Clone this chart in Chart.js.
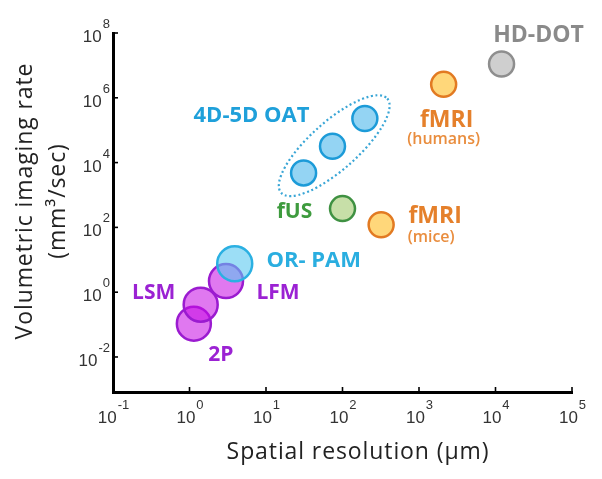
<!DOCTYPE html>
<html><head><meta charset="utf-8">
<script src="https://cdn.jsdelivr.net/npm/chart.js@4"></script>
<style>html,body{margin:0;padding:0;background:#fff;overflow:hidden}#wrap{width:602px;height:479px;position:relative}</style>
</head><body><div id="wrap"><canvas id="c" width="602" height="479"></canvas></div>
<script>
// ---- data ----
const hdDotResolution = [12000];      const hdDotRate = [1.1e7];
const fmriHumansResolution = [2100];  const fmriHumansRate = [2.6e6];
const oatResolution = [31, 74, 196];  const oatRate = [4800, 3.2e4, 2.3e5];
const fusResolution = [100];          const fusRate = [380];
const fmriMiceResolution = [320];     const fmriMiceRate = [120];
const orPamResolution = [3.9];        const orPamRate = [7.5];
const lfmResolution = [3.0];          const lfmRate = [2.2];
const lsmResolution = [1.4];          const lsmRate = [0.41];
const twoPResolution = [1.14];        const twoPRate = [0.107];
const seriesNames = ['HD-DOT', 'fMRI (humans)', '4D-5D OAT', 'fUS', 'fMRI (mice)', 'OR-PAM', 'LFM', 'LSM', '2P'];
const xTickValues = [0.1, 1, 10, 100, 1000, 10000, 100000];
const yTickValues = [0.01, 1, 100, 1e4, 1e6, 1e8];
const xRange = [0.1, 1e5];
const yRange = [8.3e-4, 1e8];
const xTitle = 'Spatial resolution (\u03bcm)';
const yTitle = ['Volumetric imaging rate', '(mm\u00b3/sec)'];

// ---- helpers ----
function expOf(v){ return String(Math.round(Math.log10(v))); }
function pts(xs, ys){ return xs.map((x,i)=>({x:x, y:ys[i]})); }

const styles = [
  {bg:'#cfcfcf', bd:'#8e8e8e', r:12.5},
  {bg:'#ffd77a', bd:'#e27a22', r:12.5},
  {bg:'#94d4f3', bd:'#1c9bd8', r:12.5},
  {bg:'#c7dfa8', bd:'#3f9142', r:12.5},
  {bg:'#ffd77a', bd:'#e27a22', r:12.5},
  {bg:'rgba(90,200,240,0.6)', bd:'#2bb0e2', r:17.5},
  {bg:'rgba(199,10,228,0.55)', bd:'#9b1bd0', r:17},
  {bg:'rgba(199,10,228,0.55)', bd:'#9b1bd0', r:17},
  {bg:'rgba(199,10,228,0.55)', bd:'#9b1bd0', r:17}
];
const seriesData = [
  pts(hdDotResolution, hdDotRate), pts(fmriHumansResolution, fmriHumansRate), pts(oatResolution, oatRate),
  pts(fusResolution, fusRate), pts(fmriMiceResolution, fmriMiceRate), pts(orPamResolution, orPamRate),
  pts(lfmResolution, lfmRate), pts(lsmResolution, lsmRate), pts(twoPResolution, twoPRate)
];
const datasets = seriesData.map((d,i)=>({
  label: seriesNames[i], data: d, backgroundColor: styles[i].bg, borderColor: styles[i].bd,
  borderWidth: 2.5, radius: styles[i].r, hoverRadius: 0
}));

const F = '"Open Sans", "Noto Sans", sans-serif';
const TF = '"Liberation Sans", Arial, sans-serif';
const labelSpecs = [
  {ds:0, pt:0, lines:[{t:'HD-DOT', dx:37, dy:-22, size:23, w:'bold', c:'#8a8a8a'}]},
  {ds:1, pt:0, lines:[{t:'fMRI', dx:3, dy:43, size:23, w:'bold', c:'#e5802b'},{t:'(humans)', dx:0, dy:60, size:16, w:'600', c:'#e98d3e'}]},
  {ds:2, pt:1, lines:[{t:'4D-5D OAT', dx:-81, dy:-24, size:22, w:'bold', c:'#1fa0da'}]},
  {ds:3, pt:0, lines:[{t:'fUS', dx:-48, dy:9, size:21, w:'bold', c:'#3e9b3e'}]},
  {ds:4, pt:0, lines:[{t:'fMRI', dx:54, dy:-2, size:23, w:'bold', c:'#e5802b'},{t:'(mice)', dx:50, dy:17, size:16, w:'600', c:'#e98d3e'}]},
  {ds:5, pt:0, lines:[{t:'OR- PAM', dx:79, dy:3, size:22, w:'bold', c:'#2aaee0'}]},
  {ds:6, pt:0, lines:[{t:'LFM', dx:52, dy:18, size:21, w:'bold', c:'#9b22d3'}]},
  {ds:7, pt:0, lines:[{t:'LSM', dx:-47, dy:-6, size:21, w:'bold', c:'#9b22d3'}]},
  {ds:8, pt:0, lines:[{t:'2P', dx:27, dy:37, size:21, w:'bold', c:'#9b22d3'}]}
];

function drawPow(ctx, e, x, baseY, align){
  ctx.font = '17px ' + TF; const w10 = ctx.measureText('10').width;
  ctx.font = '13px ' + TF; const we = ctx.measureText(e).width;
  let x0 = align === 'center' ? x - (w10 + we)/2 : x - w10 - we - 1;
  ctx.textAlign = 'left';
  ctx.font = '17px ' + TF; ctx.fillText('10', x0, baseY);
  ctx.font = '13px ' + TF; ctx.fillText(e, x0 + w10 + 1, baseY - 14);
}

const decor = {
  id:'decor',
  afterDatasetsDraw(chart){
    const ctx = chart.ctx;
    const m = chart.getDatasetMeta(2).data;
    const p0 = m[0], p1 = m[m.length-1];
    const cx = (p0.x+p1.x)/2, cy = (p0.y+p1.y)/2;
    const ang = Math.atan2(p1.y-p0.y, p1.x-p0.x);
    const half = Math.hypot(p1.x-p0.x, p1.y-p0.y)/2;
    ctx.save();
    ctx.setLineDash([2,2.6]);
    ctx.lineWidth = 2.2; ctx.strokeStyle = '#3aa6d6';
    ctx.beginPath(); ctx.ellipse(cx, cy, half+30, 24, ang, 0, Math.PI*2); ctx.stroke();
    ctx.restore();
    ctx.save();
    ctx.textAlign = 'center'; ctx.textBaseline = 'alphabetic';
    labelSpecs.forEach(s=>{
      const el = chart.getDatasetMeta(s.ds).data[s.pt];
      s.lines.forEach(l=>{
        ctx.font = l.w + ' ' + l.size + 'px ' + F;
        ctx.fillStyle = l.c;
        ctx.fillText(l.t, el.x + l.dx, el.y + l.dy);
      });
    });
    ctx.restore();
  },
  afterDraw(chart){
    const ctx = chart.ctx, xs = chart.scales.x, ys = chart.scales.y, a = chart.chartArea;
    ctx.save();
    ctx.strokeStyle = '#000'; ctx.lineWidth = 1.6;
    xs.ticks.forEach(t=>{ const px = xs.getPixelForValue(t.value); ctx.beginPath(); ctx.moveTo(px, a.bottom); ctx.lineTo(px, a.bottom-5); ctx.stroke(); });
    ys.ticks.forEach(t=>{ const py = ys.getPixelForValue(t.value); ctx.beginPath(); ctx.moveTo(a.left, py); ctx.lineTo(a.left+5, py); ctx.stroke(); });
    ctx.fillStyle = '#333'; ctx.textBaseline = 'alphabetic';
    xs.ticks.forEach(t=>{ drawPow(ctx, expOf(t.value), xs.getPixelForValue(t.value), a.bottom + 31, 'center'); });
    ys.ticks.forEach(t=>{ drawPow(ctx, expOf(t.value), a.left - 3, ys.getPixelForValue(t.value) + 9, 'right'); });
    // axis titles
    ctx.fillStyle = '#222'; ctx.textAlign = 'center'; ctx.textBaseline = 'middle';
    ctx.font = '23px ' + F;
    try { ctx.letterSpacing = '0.9px'; } catch(e) {}
    ctx.fillText(xTitle, 358, 452);
    ctx.translate(0, 201); ctx.rotate(-Math.PI/2);
    ctx.fillText(yTitle[0], 0, 25);
    ctx.fillText(yTitle[1], 0, 58);
    ctx.restore();
  }
};

new Chart(document.getElementById('c'), {
  type: 'bubble',
  data: { datasets },
  options: {
    responsive: false, animation: false, events: [],
    layout: { padding: { top: 33, right: 30, left: 0, bottom: 0 } },
    plugins: { legend: { display: false }, tooltip: { enabled: false } },
    scales: {
      x: {
        type: 'logarithmic', position: 'bottom', min: xRange[0], max: xRange[1],
        afterBuildTicks: s => { s.ticks = xTickValues.map(v=>({value:v})); },
        afterFit: s => { s.height = 87; },
        grid: { display: false, drawTicks: false },
        border: { display: true, color: '#000', width: 3 },
        ticks: { display: false, autoSkip: false }
      },
      y: {
        type: 'logarithmic', position: 'left', min: yRange[0], max: yRange[1],
        afterBuildTicks: s => { s.ticks = yTickValues.map(v=>({value:v})); },
        afterFit: s => { s.width = 113; },
        grid: { display: false, drawTicks: false },
        border: { display: true, color: '#000', width: 3 },
        ticks: { display: false, autoSkip: false }
      }
    }
  },
  plugins: [decor]
});
</script>
</body></html>
